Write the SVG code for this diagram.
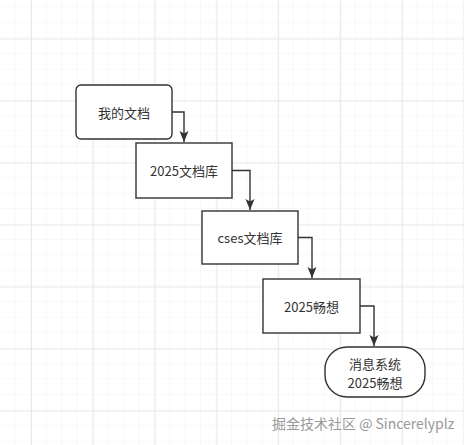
<svg xmlns="http://www.w3.org/2000/svg" width="464" height="445" viewBox="0 0 464 445">
<defs>
<pattern id="minor" x="0.2" y="7.5" width="15.45" height="15.5" patternUnits="userSpaceOnUse">
<path d="M15.45 0V15.5M0 15.5H15.45" fill="none" stroke="#f2f2f2" stroke-width="1"/>
</pattern>
<pattern id="major" x="31" y="38.5" width="61.8" height="62" patternUnits="userSpaceOnUse">
<path d="M0.5 0V62M0 0.5H61.8" fill="none" stroke="#e9e9e9" stroke-width="1"/>
</pattern>
<marker id="arrow" markerUnits="userSpaceOnUse" markerWidth="12" markerHeight="12" viewBox="0 0 12 12" refX="11" refY="6" orient="auto">
<path d="M0 1.5L11 6L0 10.5L2.5 6Z" fill="#333"/>
</marker>
<style>
.box{fill:#fff;stroke:#333;stroke-width:1.4}
.lbl{font-family:"Noto Sans CJK SC","Liberation Sans",sans-serif;font-size:13px;fill:#333;text-anchor:middle;dominant-baseline:central}
.edge{fill:none;stroke:#333;stroke-width:1.4;marker-end:url(#arrow)}
.wm{font-family:"Noto Sans CJK SC","Liberation Sans",sans-serif;font-size:14px;fill:#999}
</style>
</defs>
<rect width="464" height="445" fill="#fff"/>
<rect width="464" height="445" fill="url(#minor)"/>
<rect width="464" height="445" fill="url(#major)"/>
<g id="connectors">
<path class="edge" d="M172 112H184V142"/>
<path class="edge" d="M232 170.5H250V210"/>
<path class="edge" d="M298 237.5H312V278"/>
<path class="edge" d="M360 306H374V346"/>
</g>
<g id="n1"><rect class="box" x="76" y="85" width="96" height="54" rx="5"/><text class="lbl" x="124" y="112">我的文档</text></g>
<g id="n2"><rect class="box" x="136" y="143" width="96" height="55"/><text class="lbl" x="184" y="170.5">2025文档库</text></g>
<g id="n3"><rect class="box" x="202" y="211" width="96" height="53"/><text class="lbl" x="250" y="237.5">cses文档库</text></g>
<g id="n4"><rect class="box" x="263" y="279" width="97" height="54"/><text class="lbl" x="311.5" y="306">2025畅想</text></g>
<g id="n5"><rect class="box" x="325" y="347" width="100" height="50" rx="22"/><text class="lbl" x="375" y="362.5"><tspan x="375">消息系统</tspan><tspan x="375" dy="19">2025畅想</tspan></text></g>
<text class="wm" x="272" y="429">掘金技术社区 @ Sincerelyplz</text>
</svg>
